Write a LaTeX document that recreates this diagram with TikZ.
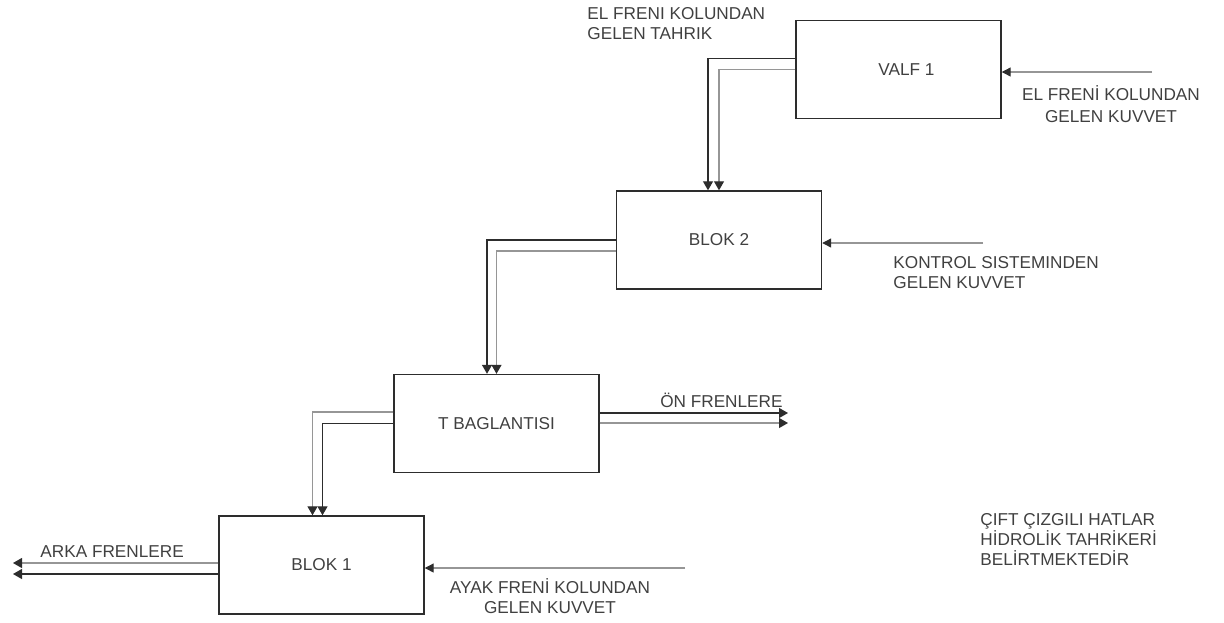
\documentclass[tikz,border=0pt]{standalone}
\usepackage{fontspec}
\setmainfont{Liberation Sans}
\usepackage{tikz}
\usetikzlibrary{arrows.meta,positioning,calc}
\definecolor{ink}{RGB}{45,45,45}
\definecolor{pipe}{RGB}{150,150,150}

\begin{document}
\begin{tikzpicture}[
  x=0.5pt,y=-0.5pt,
  font=\fontsize{8.6}{10}\selectfont,
  blk/.style={draw=ink,line width=0.7pt,minimum width=102.5pt,minimum height=49pt,
              inner sep=0pt,text=black!75},
  lbl/.style={text=black!75,inner sep=0pt},
  hydA/.style={draw=ink,line width=0.6pt,-{Triangle[length=4.5pt,width=5pt]}},
  hydB/.style={draw=pipe,line width=0.6pt,-{Triangle[length=4.5pt,width=5pt,color=ink]}},
  force/.style={draw=pipe,line width=0.6pt,-{Triangle[length=4.5pt,width=4.5pt,color=ink]}},
]
\useasboundingbox (0,0) rectangle (1224,622);
% Blocks
\node[blk] (valf) at (898.5,69.5) {\hspace*{8pt}VALF 1};
\node[blk] (blok2) at (719,240) {\raisebox{-1.5pt}{BLOK 2}};
\node[blk] (tb) at (496.5,423.5) {\raisebox{-3pt}{T BAGLANTISI}};
\node[blk] (blok1) at (321.5,565) {\raisebox{-2pt}{BLOK 1}};
% free ends
\coordinate (hand) at (1152,72);
\coordinate (ctrl) at (983,243);
\coordinate (foot) at (685,568);
\coordinate (onU) at (788,413);
\coordinate (onL) at (788,423);
\coordinate (rearU) at (13,563);
\coordinate (rearL) at (13,574);
% hydraulic lines (double)
\draw[hydA] ([yshift=5.5pt]valf.west) -| ([xshift=-5.5pt]blok2.north);
\draw[hydB] (valf.west) -| (blok2.north);
\draw[hydA] (blok2.west) -| ([xshift=-4.75pt]tb.north);
\draw[hydB] ([yshift=-5.5pt]blok2.west) -| (tb.north);
\draw[hydB] ([yshift=5.75pt]tb.west) -| ([xshift=-4.5pt]blok1.north);
\draw[hydA] (tb.west) -| ([xshift=0.5pt]blok1.north);
\draw[hydA] (tb.east |- onU) -- (onU);
\draw[hydB] (tb.east |- onL) -- (onL);
\draw[hydB] (blok1.west |- rearU) -- (rearU);
\draw[hydA] (blok1.west |- rearL) -- (rearL);
% forces
\draw[force] (hand) -- (hand -| valf.east);
\draw[force] (ctrl) -- (ctrl -| blok2.east);
\draw[force] (foot) -- (foot -| blok1.east);
% labels
\node[lbl,anchor=west,align=left] (tahrik) at (587,23.5) {EL FRENI KOLUNDAN\\GELEN TAHRIK};
\node[lbl,align=center] (elkuv) at (1111,104) {EL FRENİ KOLUNDAN\\[1pt]GELEN KUVVET};
\node[lbl,anchor=west,align=left] (kontrol) at (893,272.5) {KONTROL SISTEMINDEN\\GELEN KUVVET};
\node[lbl,above left=2.5pt and 2.5pt of onU] (on) {ÖN FRENLERE};
\node[lbl,above right=2.5pt and 13.5pt of rearU] (arka) {ARKA FRENLERE};
\node[lbl,align=center] (ayak) at (550,596.5) {AYAK FRENİ KOLUNDAN\\GELEN KUVVET};
\node[lbl,anchor=west,align=left] (note) at (980,539) {ÇIFT ÇIZGILI HATLAR\\HİDROLİK TAHRİKERİ\\BELİRTMEKTEDİR};
\end{tikzpicture}
\end{document}
